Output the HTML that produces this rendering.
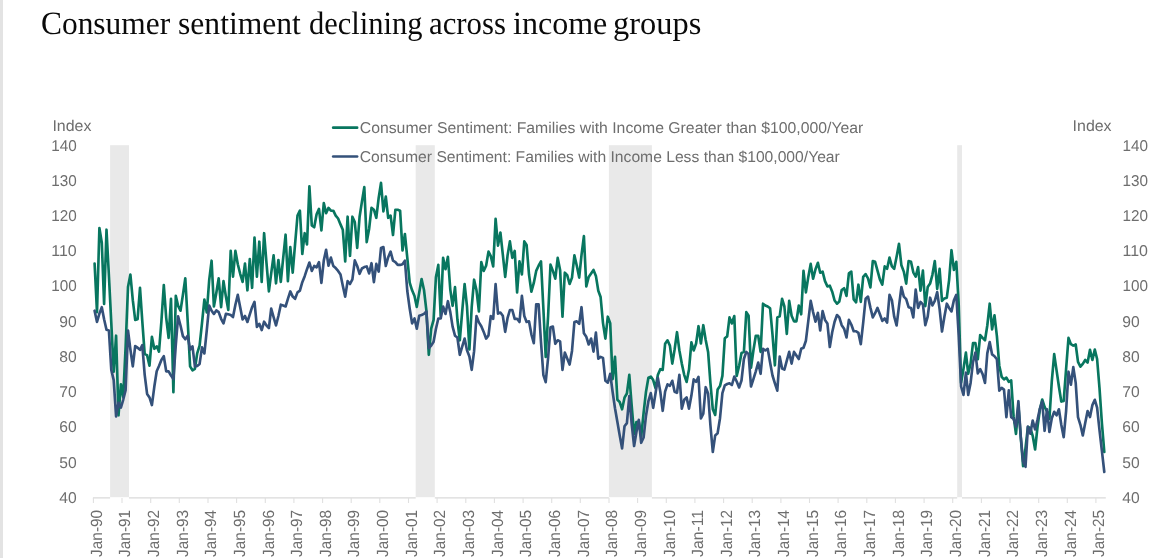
<!DOCTYPE html>
<html><head><meta charset="utf-8"><title>Consumer sentiment declining across income groups</title>
<style>
html,body{margin:0;padding:0;background:#fff;}
body{width:1155px;height:558px;position:relative;overflow:hidden;}
.strip{position:absolute;left:0;top:0;width:3px;height:558px;background:#e3e3e3;}
h1{position:absolute;left:0;top:5.9px;margin:0;width:760px;height:40px;font-family:"Liberation Serif","Times New Roman",serif;font-weight:normal;font-size:32.6px;line-height:36px;color:#0a0a0a;white-space:nowrap;will-change:transform;text-rendering:geometricPrecision;}
h1 span{position:absolute;top:0;transform-origin:0 0;display:block;}
</style></head><body>
<div class="strip"></div>
<h1><span style="left:40.9px;transform:scaleX(0.9644)">Consumer</span> <span style="left:178.3px;transform:scaleX(0.9702)">sentiment</span> <span style="left:308.5px;transform:scaleX(0.9353)">declining</span> <span style="left:429.2px;transform:scaleX(0.9449)">across</span> <span style="left:513.2px;transform:scaleX(0.9839)">income</span> <span style="left:612.8px;transform:scaleX(0.9953)">groups</span></h1>
<svg width="1155" height="558" viewBox="0 0 1155 558" style="position:absolute;left:0;top:0">
<rect x="110.1" y="145.2" width="18.9" height="352.0" fill="#e9e9e9"/>
<rect x="415.7" y="145.2" width="19.1" height="352.0" fill="#e9e9e9"/>
<rect x="608.9" y="145.2" width="43.0" height="352.0" fill="#e9e9e9"/>
<rect x="957.2" y="145.2" width="4.8" height="352.0" fill="#e9e9e9"/>
<path d="M92.9 497.9H110.1M129.0 497.9H415.7M434.8 497.9H608.9M651.9 497.9H957.2M962.0 497.9H1105.8" stroke="#dadada" stroke-width="1.3" fill="none"/>
<path d="M93.4 497.9v5M122.0 497.9v5M150.7 497.9v5M179.3 497.9v5M208.0 497.9v5M236.6 497.9v5M265.3 497.9v5M293.9 497.9v5M322.6 497.9v5M351.2 497.9v5M379.8 497.9v5M408.5 497.9v5M437.1 497.9v5M465.8 497.9v5M494.4 497.9v5M523.1 497.9v5M551.7 497.9v5M580.3 497.9v5M609.0 497.9v5M637.6 497.9v5M666.3 497.9v5M694.9 497.9v5M723.6 497.9v5M752.2 497.9v5M780.9 497.9v5M809.5 497.9v5M838.1 497.9v5M866.8 497.9v5M895.4 497.9v5M924.1 497.9v5M952.7 497.9v5M981.4 497.9v5M1010.0 497.9v5M1038.7 497.9v5M1067.3 497.9v5M1095.9 497.9v5" stroke="#e0e0e0" stroke-width="1.1" fill="none"/>
<path d="M94.6 263.5 L97.0 312.1 L99.4 228.0 L101.8 242.8 L104.1 304.0 L106.5 229.7 L108.9 275.5 L111.3 323.1 L113.7 371.7 L116.1 335.7 L118.5 415.3 L120.9 384.3 L123.2 397.0 L125.6 347.4 L128.0 287.1 L130.4 274.5 L132.8 300.2 L135.2 319.9 L137.6 319.2 L140.0 287.8 L142.3 321.3 L144.7 354.1 L147.1 355.1 L149.5 365.7 L151.9 336.8 L154.3 348.8 L156.7 346.3 L159.0 351.6 L161.4 321.3 L163.8 285.0 L166.2 317.8 L168.6 337.9 L171.0 298.8 L173.4 392.1 L175.8 295.9 L178.1 305.8 L180.5 310.7 L182.9 294.9 L185.3 278.3 L187.7 321.3 L190.1 366.4 L192.5 370.3 L194.9 368.8 L197.2 353.4 L199.6 345.6 L202.0 323.1 L204.4 299.5 L206.8 312.5 L209.2 280.1 L211.6 260.7 L213.9 306.5 L216.3 293.1 L218.7 278.3 L221.1 307.2 L223.5 281.1 L225.9 296.6 L228.3 310.0 L230.7 250.9 L233.0 276.6 L235.4 250.9 L237.8 264.2 L240.2 273.8 L242.6 281.9 L245.0 263.5 L247.4 290.3 L249.8 259.0 L252.1 287.8 L254.5 237.5 L256.9 276.6 L259.3 241.7 L261.7 281.9 L264.1 233.2 L266.5 263.2 L268.9 291.4 L271.2 273.4 L273.6 255.4 L276.0 283.3 L278.4 260.0 L280.8 281.9 L283.2 257.9 L285.6 234.7 L287.9 281.1 L290.3 247.0 L292.7 272.7 L295.1 243.8 L297.5 215.6 L299.9 210.7 L302.3 254.0 L304.7 233.2 L307.0 244.5 L309.4 186.4 L311.8 225.5 L314.2 227.3 L316.6 214.2 L319.0 208.9 L321.4 230.4 L323.8 203.0 L326.1 213.2 L328.5 207.9 L330.9 210.7 L333.3 210.7 L335.7 215.6 L338.1 218.5 L340.5 224.4 L342.8 229.7 L345.2 261.4 L347.6 216.7 L350.0 255.8 L352.4 216.7 L354.8 222.0 L357.2 248.0 L359.6 216.7 L361.9 201.9 L364.3 187.1 L366.7 242.1 L369.1 229.0 L371.5 207.9 L373.9 209.7 L376.3 217.8 L378.7 197.7 L381.0 182.9 L383.4 211.4 L385.8 196.6 L388.2 217.8 L390.6 215.6 L393.0 235.0 L395.4 209.7 L397.7 209.7 L400.1 210.7 L402.5 250.5 L404.9 234.0 L407.3 257.9 L409.7 282.6 L412.1 290.3 L414.5 295.9 L416.8 306.9 L419.2 292.8 L421.6 279.0 L424.0 290.0 L426.4 310.7 L428.8 354.8 L431.2 328.7 L433.6 319.9 L435.9 277.3 L438.3 264.9 L440.7 316.0 L443.1 257.9 L445.5 269.2 L447.9 256.8 L450.3 289.6 L452.6 305.8 L455.0 287.1 L457.4 319.5 L459.8 340.3 L462.2 311.4 L464.6 284.0 L467.0 306.5 L469.4 349.5 L471.7 307.2 L474.1 279.7 L476.5 290.3 L478.9 311.4 L481.3 262.1 L483.7 270.9 L486.1 265.7 L488.5 251.6 L490.8 256.1 L493.2 266.4 L495.6 218.8 L498.0 245.6 L500.4 232.5 L502.8 254.4 L505.2 276.9 L507.6 255.1 L509.9 241.4 L512.3 257.9 L514.7 250.9 L517.1 292.4 L519.5 261.4 L521.9 274.5 L524.3 241.4 L526.6 244.9 L529.0 274.5 L531.4 291.7 L533.8 282.9 L536.2 270.9 L538.6 265.7 L541.0 261.4 L543.4 309.0 L545.7 356.9 L548.1 316.0 L550.5 264.6 L552.9 270.9 L555.3 278.7 L557.7 257.9 L560.1 269.9 L562.5 316.7 L564.8 272.7 L567.2 275.2 L569.6 284.0 L572.0 277.6 L574.4 255.4 L576.8 265.7 L579.2 277.6 L581.5 255.1 L583.9 236.1 L586.3 286.4 L588.7 276.9 L591.1 273.4 L593.5 269.9 L595.9 275.9 L598.3 290.7 L600.6 297.0 L603.0 323.1 L605.4 338.6 L607.8 316.7 L610.2 323.1 L612.6 379.1 L615.0 356.9 L617.4 399.8 L619.7 402.0 L622.1 409.3 L624.5 397.7 L626.9 393.5 L629.3 374.8 L631.7 405.8 L634.1 434.0 L636.4 422.0 L638.8 421.7 L641.2 436.5 L643.6 412.9 L646.0 391.7 L648.4 377.7 L650.8 376.6 L653.2 380.1 L655.5 388.2 L657.9 374.8 L660.3 369.2 L662.7 369.9 L665.1 343.8 L667.5 340.3 L669.9 345.6 L672.3 363.6 L674.6 349.5 L677.0 332.2 L679.4 350.5 L681.8 363.6 L684.2 374.8 L686.6 381.9 L689.0 369.6 L691.4 342.4 L693.7 350.5 L696.1 343.5 L698.5 326.2 L700.9 343.5 L703.3 325.2 L705.7 340.0 L708.1 351.9 L710.4 382.9 L712.8 409.3 L715.2 415.0 L717.6 389.6 L720.0 386.1 L722.4 375.9 L724.8 338.2 L727.2 336.4 L729.5 317.4 L731.9 323.4 L734.3 316.0 L736.7 375.9 L739.1 366.0 L741.5 353.0 L743.9 351.9 L746.3 312.1 L748.6 315.7 L751.0 367.8 L753.4 350.5 L755.8 335.7 L758.2 335.7 L760.6 351.9 L763.0 303.7 L765.3 305.5 L767.7 306.5 L770.1 308.3 L772.5 334.7 L774.9 365.3 L777.3 317.4 L779.7 316.4 L782.1 298.8 L784.4 306.5 L786.8 334.0 L789.2 300.9 L791.6 315.7 L794.0 321.3 L796.4 321.3 L798.8 305.5 L801.2 314.3 L803.5 270.9 L805.9 292.4 L808.3 276.9 L810.7 263.9 L813.1 278.7 L815.5 269.2 L817.9 262.8 L820.2 272.7 L822.6 271.6 L825.0 281.1 L827.4 286.4 L829.8 285.7 L832.2 291.7 L834.6 300.5 L837.0 303.7 L839.3 301.6 L841.7 290.0 L844.1 288.2 L846.5 295.9 L848.9 273.4 L851.3 271.6 L853.7 299.5 L856.1 302.3 L858.4 284.7 L860.8 301.9 L863.2 276.9 L865.6 274.1 L868.0 278.3 L870.4 287.5 L872.8 261.1 L875.1 261.8 L877.5 270.6 L879.9 279.4 L882.3 284.7 L884.7 266.4 L887.1 268.8 L889.5 257.6 L891.9 266.4 L894.2 268.8 L896.6 256.8 L899.0 243.8 L901.4 265.3 L903.8 271.6 L906.2 283.6 L908.6 261.1 L911.0 261.8 L913.3 272.3 L915.7 276.6 L918.1 267.1 L920.5 290.7 L922.9 270.6 L925.3 306.2 L927.7 287.1 L930.1 283.6 L932.4 274.8 L934.8 261.1 L937.2 288.9 L939.6 268.8 L942.0 300.9 L944.4 298.4 L946.8 297.7 L949.1 280.1 L951.5 250.2 L953.9 269.9 L956.3 261.8 L958.7 304.4 L961.1 382.9 L963.5 368.8 L965.9 352.6 L968.2 373.8 L970.6 363.6 L973.0 343.1 L975.4 343.1 L977.8 359.3 L980.2 335.0 L982.6 337.9 L985.0 340.3 L987.3 325.5 L989.7 303.7 L992.1 329.4 L994.5 315.3 L996.9 336.1 L999.3 365.7 L1001.7 376.9 L1004.0 379.4 L1006.4 377.7 L1008.8 381.9 L1011.2 380.5 L1013.6 416.4 L1016.0 434.0 L1018.4 405.8 L1020.8 437.5 L1023.1 466.1 L1025.5 448.1 L1027.9 427.0 L1030.3 428.0 L1032.7 435.8 L1035.1 449.5 L1037.5 427.0 L1039.9 409.3 L1042.2 399.5 L1044.6 406.9 L1047.0 411.5 L1049.4 418.9 L1051.8 381.2 L1054.2 354.1 L1056.6 370.6 L1058.9 386.5 L1061.3 401.6 L1063.7 400.9 L1066.1 369.2 L1068.5 337.9 L1070.9 344.2 L1073.3 345.6 L1075.7 344.5 L1078.0 361.8 L1080.4 366.7 L1082.8 363.9 L1085.2 360.0 L1087.6 362.5 L1090.0 349.8 L1092.4 360.0 L1094.8 349.5 L1097.1 359.0 L1099.5 388.2 L1101.9 423.1 L1104.3 452.0" fill="none" stroke="#08765f" stroke-width="2.65" stroke-linejoin="round" stroke-linecap="round"/>
<path d="M94.6 310.7 L97.0 322.0 L99.4 313.6 L101.8 307.2 L104.1 319.2 L106.5 329.8 L108.9 330.5 L111.3 369.9 L113.7 380.1 L116.1 416.4 L118.5 402.7 L120.9 407.6 L123.2 399.8 L125.6 390.3 L128.0 330.5 L130.4 349.5 L132.8 366.4 L135.2 346.0 L137.6 347.7 L140.0 349.8 L142.3 345.2 L144.7 374.8 L147.1 393.9 L149.5 397.4 L151.9 405.1 L154.3 386.8 L156.7 371.3 L159.0 366.0 L161.4 360.0 L163.8 356.2 L166.2 371.3 L168.6 371.3 L171.0 375.5 L173.4 379.1 L175.8 344.9 L178.1 316.4 L180.5 325.5 L182.9 336.1 L185.3 339.3 L187.7 335.7 L190.1 349.8 L192.5 346.3 L194.9 366.4 L197.2 366.0 L199.6 363.9 L202.0 347.4 L204.4 353.4 L206.8 330.1 L209.2 305.5 L211.6 310.7 L213.9 313.9 L216.3 310.4 L218.7 312.1 L221.1 318.8 L223.5 323.4 L225.9 313.9 L228.3 314.3 L230.7 315.0 L233.0 317.1 L235.4 304.7 L237.8 294.9 L240.2 307.2 L242.6 319.5 L245.0 316.0 L247.4 322.0 L249.8 314.3 L252.1 307.2 L254.5 301.9 L256.9 326.9 L259.3 323.8 L261.7 330.1 L264.1 321.7 L266.5 325.5 L268.9 328.0 L271.2 308.6 L273.6 317.1 L276.0 325.5 L278.4 316.0 L280.8 304.7 L283.2 305.5 L285.6 306.5 L287.9 298.8 L290.3 291.4 L292.7 296.6 L295.1 298.8 L297.5 292.4 L299.9 290.7 L302.3 282.2 L304.7 276.2 L307.0 269.2 L309.4 262.5 L311.8 270.9 L314.2 266.0 L316.6 267.4 L319.0 262.1 L321.4 282.9 L323.8 260.4 L326.1 249.8 L328.5 265.7 L330.9 257.6 L333.3 266.0 L335.7 268.1 L338.1 270.9 L340.5 274.5 L342.8 285.7 L345.2 296.6 L347.6 281.1 L350.0 284.0 L352.4 279.4 L354.8 260.4 L357.2 266.0 L359.6 273.8 L361.9 268.5 L364.3 267.1 L366.7 266.4 L369.1 273.4 L371.5 263.2 L373.9 282.2 L376.3 263.9 L378.7 271.6 L381.0 248.0 L383.4 247.0 L385.8 266.0 L388.2 257.2 L390.6 251.6 L393.0 260.7 L395.4 262.1 L397.7 264.9 L400.1 264.9 L402.5 264.2 L404.9 260.7 L407.3 291.0 L409.7 308.6 L412.1 323.4 L414.5 318.5 L416.8 328.7 L419.2 315.7 L421.6 315.0 L424.0 313.9 L426.4 311.4 L428.8 348.1 L431.2 345.6 L433.6 341.7 L435.9 329.0 L438.3 318.5 L440.7 318.5 L443.1 306.5 L445.5 313.9 L447.9 301.2 L450.3 312.1 L452.6 326.6 L455.0 335.7 L457.4 337.5 L459.8 354.8 L462.2 346.7 L464.6 338.6 L467.0 350.2 L469.4 356.5 L471.7 369.9 L474.1 351.2 L476.5 316.0 L478.9 322.4 L481.3 326.2 L483.7 331.9 L486.1 338.6 L488.5 335.4 L490.8 316.0 L493.2 318.8 L495.6 284.0 L498.0 313.6 L500.4 312.5 L502.8 315.7 L505.2 331.9 L507.6 317.8 L509.9 310.0 L512.3 310.0 L514.7 318.8 L517.1 318.8 L519.5 322.0 L521.9 295.9 L524.3 316.0 L526.6 322.0 L529.0 321.3 L531.4 334.3 L533.8 343.1 L536.2 304.4 L538.6 304.4 L541.0 342.1 L543.4 375.2 L545.7 382.2 L548.1 357.9 L550.5 327.3 L552.9 326.6 L555.3 343.8 L557.7 340.3 L560.1 341.4 L562.5 369.9 L564.8 352.6 L567.2 358.6 L569.6 364.6 L572.0 350.9 L574.4 322.0 L576.8 321.3 L579.2 323.8 L581.5 307.2 L583.9 333.3 L586.3 336.8 L588.7 344.5 L591.1 338.6 L593.5 351.6 L595.9 332.6 L598.3 358.6 L600.6 356.9 L603.0 357.9 L605.4 380.8 L607.8 382.6 L610.2 373.8 L612.6 391.7 L615.0 408.3 L617.4 422.0 L619.7 435.4 L622.1 448.4 L624.5 426.3 L626.9 423.1 L629.3 396.0 L631.7 424.1 L634.1 446.0 L636.4 432.2 L638.8 419.9 L641.2 442.8 L643.6 437.5 L646.0 415.7 L648.4 401.2 L650.8 393.1 L653.2 407.9 L655.5 393.5 L657.9 378.0 L660.3 391.7 L662.7 410.8 L665.1 391.7 L667.5 384.3 L669.9 385.8 L672.3 380.8 L674.6 391.7 L677.0 392.8 L679.4 374.8 L681.8 408.6 L684.2 399.8 L686.6 397.4 L689.0 408.6 L691.4 395.6 L693.7 379.4 L696.1 381.9 L698.5 376.9 L700.9 418.5 L703.3 413.6 L705.7 387.2 L708.1 393.5 L710.4 425.2 L712.8 452.0 L715.2 435.4 L717.6 433.3 L720.0 418.2 L722.4 393.1 L724.8 385.4 L727.2 384.0 L729.5 383.3 L731.9 385.0 L734.3 376.6 L736.7 381.5 L739.1 387.5 L741.5 380.5 L743.9 359.0 L746.3 351.9 L748.6 354.1 L751.0 386.5 L753.4 379.1 L755.8 371.3 L758.2 362.5 L760.6 373.8 L763.0 348.8 L765.3 350.5 L767.7 348.8 L770.1 362.5 L772.5 375.5 L774.9 383.3 L777.3 390.7 L779.7 356.5 L782.1 368.5 L784.4 369.6 L786.8 360.7 L789.2 351.9 L791.6 363.6 L794.0 351.9 L796.4 355.5 L798.8 359.0 L801.2 348.8 L803.5 347.7 L805.9 340.7 L808.3 320.9 L810.7 300.9 L813.1 312.1 L815.5 321.7 L817.9 312.8 L820.2 330.5 L822.6 311.1 L825.0 319.9 L827.4 323.4 L829.8 347.0 L832.2 332.2 L834.6 321.7 L837.0 315.0 L839.3 317.4 L841.7 325.2 L844.1 328.7 L846.5 337.5 L848.9 319.9 L851.3 324.5 L853.7 331.2 L856.1 331.2 L858.4 332.9 L860.8 344.2 L863.2 322.7 L865.6 298.8 L868.0 296.6 L870.4 307.6 L872.8 317.4 L875.1 313.2 L877.5 307.9 L879.9 314.3 L882.3 320.9 L884.7 318.5 L887.1 322.7 L889.5 294.9 L891.9 300.2 L894.2 316.7 L896.6 325.5 L899.0 306.2 L901.4 287.1 L903.8 296.6 L906.2 299.1 L908.6 307.2 L911.0 307.9 L913.3 317.4 L915.7 289.6 L918.1 307.9 L920.5 301.9 L922.9 304.4 L925.3 325.2 L927.7 316.7 L930.1 297.7 L932.4 305.5 L934.8 300.9 L937.2 292.1 L939.6 309.0 L942.0 331.5 L944.4 316.7 L946.8 303.7 L949.1 307.9 L951.5 311.4 L953.9 300.2 L956.3 294.9 L958.7 335.4 L961.1 386.5 L963.5 394.9 L965.9 372.7 L968.2 394.9 L970.6 382.9 L973.0 362.2 L975.4 352.6 L977.8 373.4 L980.2 369.2 L982.6 374.1 L985.0 382.9 L987.3 353.4 L989.7 342.1 L992.1 354.4 L994.5 356.2 L996.9 359.3 L999.3 390.7 L1001.7 387.9 L1004.0 389.6 L1006.4 417.1 L1008.8 390.3 L1011.2 417.1 L1013.6 418.9 L1016.0 426.6 L1018.4 401.2 L1020.8 437.2 L1023.1 461.5 L1025.5 466.8 L1027.9 426.6 L1030.3 433.7 L1032.7 420.6 L1035.1 429.4 L1037.5 419.9 L1039.9 408.6 L1042.2 401.6 L1044.6 430.8 L1047.0 409.3 L1049.4 431.9 L1051.8 418.2 L1054.2 411.8 L1056.6 415.3 L1058.9 409.3 L1061.3 424.8 L1063.7 437.2 L1066.1 411.1 L1068.5 371.7 L1070.9 384.7 L1073.3 367.1 L1075.7 382.9 L1078.0 417.1 L1080.4 424.8 L1082.8 435.4 L1085.2 423.1 L1087.6 411.1 L1090.0 417.1 L1092.4 405.1 L1094.8 399.8 L1097.1 407.6 L1099.5 430.1 L1101.9 450.9 L1104.3 472.0" fill="none" stroke="#34517a" stroke-width="2.65" stroke-linejoin="round" stroke-linecap="round"/>
<path d="M333.2 127.7H357.1" stroke="#08765f" stroke-width="2.7" stroke-linecap="round"/>
<path d="M333.2 156.5H357.1" stroke="#34517a" stroke-width="2.7" stroke-linecap="round"/>
<g font-family="Liberation Sans, Arial, sans-serif" font-size="15.6" fill="#6e6e6e" style="will-change:transform;text-rendering:geometricPrecision">
<text x="51.2" y="150.5" textLength="25.5" lengthAdjust="spacingAndGlyphs">140</text>
<text x="1122.5" y="150.5" textLength="25.5" lengthAdjust="spacingAndGlyphs">140</text>
<text x="51.2" y="185.7" textLength="25.5" lengthAdjust="spacingAndGlyphs">130</text>
<text x="1122.5" y="185.7" textLength="25.5" lengthAdjust="spacingAndGlyphs">130</text>
<text x="51.2" y="220.9" textLength="25.5" lengthAdjust="spacingAndGlyphs">120</text>
<text x="1122.5" y="220.9" textLength="25.5" lengthAdjust="spacingAndGlyphs">120</text>
<text x="51.2" y="256.2" textLength="25.5" lengthAdjust="spacingAndGlyphs">110</text>
<text x="1122.5" y="256.2" textLength="25.5" lengthAdjust="spacingAndGlyphs">110</text>
<text x="51.2" y="291.4" textLength="25.5" lengthAdjust="spacingAndGlyphs">100</text>
<text x="1122.5" y="291.4" textLength="25.5" lengthAdjust="spacingAndGlyphs">100</text>
<text x="59.3" y="326.6" textLength="17.4" lengthAdjust="spacingAndGlyphs">90</text>
<text x="1122.2" y="326.6" textLength="17.4" lengthAdjust="spacingAndGlyphs">90</text>
<text x="59.3" y="361.8" textLength="17.4" lengthAdjust="spacingAndGlyphs">80</text>
<text x="1122.2" y="361.8" textLength="17.4" lengthAdjust="spacingAndGlyphs">80</text>
<text x="59.3" y="397.0" textLength="17.4" lengthAdjust="spacingAndGlyphs">70</text>
<text x="1122.2" y="397.0" textLength="17.4" lengthAdjust="spacingAndGlyphs">70</text>
<text x="59.3" y="432.3" textLength="17.4" lengthAdjust="spacingAndGlyphs">60</text>
<text x="1122.2" y="432.3" textLength="17.4" lengthAdjust="spacingAndGlyphs">60</text>
<text x="59.3" y="467.5" textLength="17.4" lengthAdjust="spacingAndGlyphs">50</text>
<text x="1122.2" y="467.5" textLength="17.4" lengthAdjust="spacingAndGlyphs">50</text>
<text x="59.3" y="502.7" textLength="17.4" lengthAdjust="spacingAndGlyphs">40</text>
<text x="1122.2" y="502.7" textLength="17.4" lengthAdjust="spacingAndGlyphs">40</text>
<text x="52.4" y="130.9" textLength="39" lengthAdjust="spacingAndGlyphs">Index</text>
<text x="1072.6" y="130.9" textLength="39" lengthAdjust="spacingAndGlyphs">Index</text>
<text x="359.8" y="133.3" textLength="503.5" lengthAdjust="spacingAndGlyphs">Consumer Sentiment: Families with Income Greater than $100,000/Year</text>
<text x="359.8" y="162.2" textLength="480" lengthAdjust="spacingAndGlyphs">Consumer Sentiment: Families with Income Less than $100,000/Year</text>
<text font-size="16.2" transform="translate(101.6 556.9) rotate(-90)" textLength="47" lengthAdjust="spacingAndGlyphs">Jan-90</text>
<text font-size="16.2" transform="translate(130.2 556.9) rotate(-90)" textLength="47" lengthAdjust="spacingAndGlyphs">Jan-91</text>
<text font-size="16.2" transform="translate(158.9 556.9) rotate(-90)" textLength="47" lengthAdjust="spacingAndGlyphs">Jan-92</text>
<text font-size="16.2" transform="translate(187.5 556.9) rotate(-90)" textLength="47" lengthAdjust="spacingAndGlyphs">Jan-93</text>
<text font-size="16.2" transform="translate(216.2 556.9) rotate(-90)" textLength="47" lengthAdjust="spacingAndGlyphs">Jan-94</text>
<text font-size="16.2" transform="translate(244.8 556.9) rotate(-90)" textLength="47" lengthAdjust="spacingAndGlyphs">Jan-95</text>
<text font-size="16.2" transform="translate(273.5 556.9) rotate(-90)" textLength="47" lengthAdjust="spacingAndGlyphs">Jan-96</text>
<text font-size="16.2" transform="translate(302.1 556.9) rotate(-90)" textLength="47" lengthAdjust="spacingAndGlyphs">Jan-97</text>
<text font-size="16.2" transform="translate(330.8 556.9) rotate(-90)" textLength="47" lengthAdjust="spacingAndGlyphs">Jan-98</text>
<text font-size="16.2" transform="translate(359.4 556.9) rotate(-90)" textLength="47" lengthAdjust="spacingAndGlyphs">Jan-99</text>
<text font-size="16.2" transform="translate(388.0 556.9) rotate(-90)" textLength="47" lengthAdjust="spacingAndGlyphs">Jan-00</text>
<text font-size="16.2" transform="translate(416.7 556.9) rotate(-90)" textLength="47" lengthAdjust="spacingAndGlyphs">Jan-01</text>
<text font-size="16.2" transform="translate(445.3 556.9) rotate(-90)" textLength="47" lengthAdjust="spacingAndGlyphs">Jan-02</text>
<text font-size="16.2" transform="translate(474.0 556.9) rotate(-90)" textLength="47" lengthAdjust="spacingAndGlyphs">Jan-03</text>
<text font-size="16.2" transform="translate(502.6 556.9) rotate(-90)" textLength="47" lengthAdjust="spacingAndGlyphs">Jan-04</text>
<text font-size="16.2" transform="translate(531.3 556.9) rotate(-90)" textLength="47" lengthAdjust="spacingAndGlyphs">Jan-05</text>
<text font-size="16.2" transform="translate(559.9 556.9) rotate(-90)" textLength="47" lengthAdjust="spacingAndGlyphs">Jan-06</text>
<text font-size="16.2" transform="translate(588.5 556.9) rotate(-90)" textLength="47" lengthAdjust="spacingAndGlyphs">Jan-07</text>
<text font-size="16.2" transform="translate(617.2 556.9) rotate(-90)" textLength="47" lengthAdjust="spacingAndGlyphs">Jan-08</text>
<text font-size="16.2" transform="translate(645.8 556.9) rotate(-90)" textLength="47" lengthAdjust="spacingAndGlyphs">Jan-09</text>
<text font-size="16.2" transform="translate(674.5 556.9) rotate(-90)" textLength="47" lengthAdjust="spacingAndGlyphs">Jan-10</text>
<text font-size="16.2" transform="translate(703.1 556.9) rotate(-90)" textLength="47" lengthAdjust="spacingAndGlyphs">Jan-11</text>
<text font-size="16.2" transform="translate(731.8 556.9) rotate(-90)" textLength="47" lengthAdjust="spacingAndGlyphs">Jan-12</text>
<text font-size="16.2" transform="translate(760.4 556.9) rotate(-90)" textLength="47" lengthAdjust="spacingAndGlyphs">Jan-13</text>
<text font-size="16.2" transform="translate(789.1 556.9) rotate(-90)" textLength="47" lengthAdjust="spacingAndGlyphs">Jan-14</text>
<text font-size="16.2" transform="translate(817.7 556.9) rotate(-90)" textLength="47" lengthAdjust="spacingAndGlyphs">Jan-15</text>
<text font-size="16.2" transform="translate(846.3 556.9) rotate(-90)" textLength="47" lengthAdjust="spacingAndGlyphs">Jan-16</text>
<text font-size="16.2" transform="translate(875.0 556.9) rotate(-90)" textLength="47" lengthAdjust="spacingAndGlyphs">Jan-17</text>
<text font-size="16.2" transform="translate(903.6 556.9) rotate(-90)" textLength="47" lengthAdjust="spacingAndGlyphs">Jan-18</text>
<text font-size="16.2" transform="translate(932.3 556.9) rotate(-90)" textLength="47" lengthAdjust="spacingAndGlyphs">Jan-19</text>
<text font-size="16.2" transform="translate(960.9 556.9) rotate(-90)" textLength="47" lengthAdjust="spacingAndGlyphs">Jan-20</text>
<text font-size="16.2" transform="translate(989.6 556.9) rotate(-90)" textLength="47" lengthAdjust="spacingAndGlyphs">Jan-21</text>
<text font-size="16.2" transform="translate(1018.2 556.9) rotate(-90)" textLength="47" lengthAdjust="spacingAndGlyphs">Jan-22</text>
<text font-size="16.2" transform="translate(1046.9 556.9) rotate(-90)" textLength="47" lengthAdjust="spacingAndGlyphs">Jan-23</text>
<text font-size="16.2" transform="translate(1075.5 556.9) rotate(-90)" textLength="47" lengthAdjust="spacingAndGlyphs">Jan-24</text>
<text font-size="16.2" transform="translate(1104.1 556.9) rotate(-90)" textLength="47" lengthAdjust="spacingAndGlyphs">Jan-25</text>
</g>
</svg>
</body></html>
